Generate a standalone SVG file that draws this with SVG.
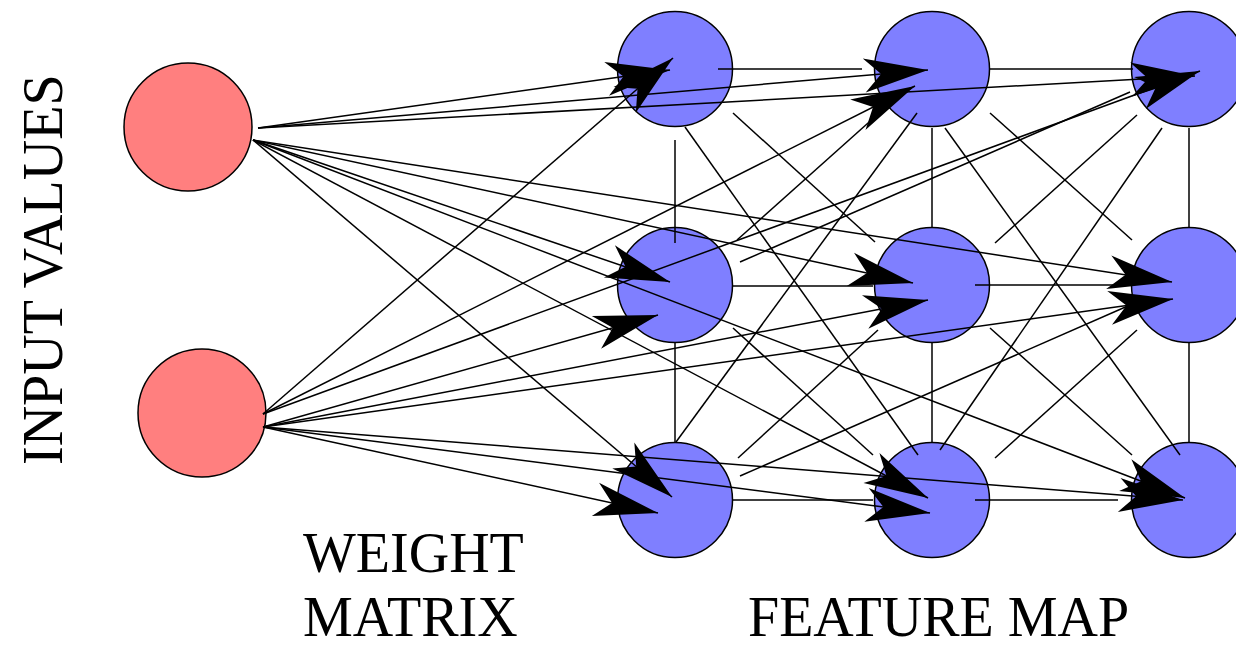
<svg xmlns="http://www.w3.org/2000/svg" width="1236" height="647" viewBox="0 0 1236 647">
  <style>
    .input { fill: #ff7f7f; stroke: #000; stroke-width: 1.5; }
    .unit { fill: #7f7fff; stroke: #000; stroke-width: 1.5; }
    .wire { stroke: #000; stroke-width: 1.5; fill: none; }
    .weight { stroke: #000; stroke-width: 1.5; fill: none; marker-end: url(#head); }
    .label { font-family: "Liberation Serif", "Times New Roman", serif; font-size: 56px; fill: #000; }
  </style>
  <defs>
    <!-- swept (stealth) arrowhead used on every weight connection -->
    <marker id="head" markerUnits="userSpaceOnUse" viewBox="-68 -20 70 40" markerWidth="70" markerHeight="40" refX="0" refY="0" orient="auto" overflow="visible">
      <path d="M0,0 L-64,-17 L-47,0 L-64,17 Z" fill="#000"/>
    </marker>
  </defs>

  <rect width="1236" height="647" fill="#fff"/>

  <!-- input layer -->
  <g id="input1"><circle class="input" cx="188" cy="127" r="64"/></g>
  <g id="input2"><circle class="input" cx="202" cy="413" r="64"/></g>

  <!-- feature map, 3 x 3 -->
  <g id="unit-0-0"><circle class="unit" cx="675" cy="69" r="57.5"/></g>
  <g id="unit-0-1"><circle class="unit" cx="932" cy="69" r="57.5"/></g>
  <g id="unit-0-2"><circle class="unit" cx="1189" cy="69" r="57.5"/></g>
  <g id="unit-1-0"><circle class="unit" cx="675" cy="285" r="57.5"/></g>
  <g id="unit-1-1"><circle class="unit" cx="932" cy="285" r="57.5"/></g>
  <g id="unit-1-2"><circle class="unit" cx="1189" cy="285" r="57.5"/></g>
  <g id="unit-2-0"><circle class="unit" cx="675" cy="500" r="57.5"/></g>
  <g id="unit-2-1"><circle class="unit" cx="932" cy="500" r="57.5"/></g>
  <g id="unit-2-2"><circle class="unit" cx="1189" cy="500" r="57.5"/></g>

  <g id="connectors">
    <!-- lateral links: rows -->
    <line class="wire" x1="718" y1="69" x2="862" y2="69"/>
    <line class="wire" x1="990" y1="69" x2="1133" y2="69"/>
    <line class="wire" x1="732" y1="286" x2="873" y2="286"/>
    <line class="wire" x1="975" y1="285" x2="1133" y2="285"/>
    <line class="wire" x1="732" y1="500" x2="873" y2="500"/>
    <line class="wire" x1="975" y1="500" x2="1118" y2="500"/>
    <!-- lateral links: columns -->
    <line class="wire" x1="675" y1="140" x2="675" y2="243"/>
    <line class="wire" x1="675" y1="343" x2="675" y2="443"/>
    <line class="wire" x1="932" y1="128" x2="932" y2="227"/>
    <line class="wire" x1="932" y1="343" x2="932" y2="443"/>
    <line class="wire" x1="1189" y1="128" x2="1189" y2="227"/>
    <line class="wire" x1="1189" y1="343" x2="1189" y2="443"/>
    <!-- lateral links: diagonal neighbours -->
    <line class="wire" x1="733" y1="113" x2="875" y2="242"/>
    <line class="wire" x1="737" y1="240" x2="877" y2="115"/>
    <line class="wire" x1="990" y1="113" x2="1132" y2="240"/>
    <line class="wire" x1="995" y1="243" x2="1137" y2="115"/>
    <line class="wire" x1="733" y1="328" x2="873" y2="455"/>
    <line class="wire" x1="738" y1="458" x2="878" y2="330"/>
    <line class="wire" x1="990" y1="328" x2="1132" y2="455"/>
    <line class="wire" x1="995" y1="458" x2="1137" y2="330"/>
    <!-- lateral links: knight-move neighbours -->
    <line class="wire" x1="685" y1="127" x2="918" y2="455"/>
    <line class="wire" x1="917" y1="113" x2="676" y2="442"/>
    <line class="wire" x1="945" y1="128" x2="1180" y2="455"/>
    <line class="wire" x1="1162" y1="128" x2="940" y2="450"/>
    <line class="wire" x1="740" y1="262" x2="1130" y2="92"/>
    <line class="wire" x1="740" y1="476" x2="1130" y2="305"/>

    <!-- weights from input 1 -->
    <line class="weight" x1="258" y1="128" x2="670" y2="70"/>
    <line class="weight" x1="258" y1="128" x2="928" y2="70"/>
    <line class="weight" x1="258" y1="128" x2="1195" y2="76"/>
    <line class="weight" x1="253" y1="140" x2="670" y2="282"/>
    <line class="weight" x1="253" y1="140" x2="913" y2="283"/>
    <line class="weight" x1="253" y1="140" x2="1172" y2="282"/>
    <line class="weight" x1="253" y1="140" x2="672" y2="497"/>
    <line class="weight" x1="253" y1="140" x2="928" y2="498"/>
    <line class="weight" x1="253" y1="140" x2="1185" y2="498"/>
    <!-- weights from input 2 -->
    <line class="weight" x1="263" y1="414" x2="673" y2="58"/>
    <line class="weight" x1="263" y1="414" x2="915" y2="86"/>
    <line class="weight" x1="263" y1="414" x2="1200" y2="71"/>
    <line class="weight" x1="263" y1="427" x2="658" y2="315"/>
    <line class="weight" x1="263" y1="427" x2="928" y2="300"/>
    <line class="weight" x1="263" y1="427" x2="1173" y2="299"/>
    <line class="weight" x1="263" y1="427" x2="658" y2="513"/>
    <line class="weight" x1="263" y1="427" x2="930" y2="513"/>
    <line class="weight" x1="263" y1="427" x2="1183" y2="500"/>
  </g>

  <!-- captions -->
  <text class="label" transform="translate(62,465) rotate(-90)">INPUT VALUES</text>
  <text class="label" x="303" y="572">WEIGHT</text>
  <text class="label" x="303" y="636">MATRIX</text>
  <text class="label" x="748" y="636">FEATURE MAP</text>
</svg>
